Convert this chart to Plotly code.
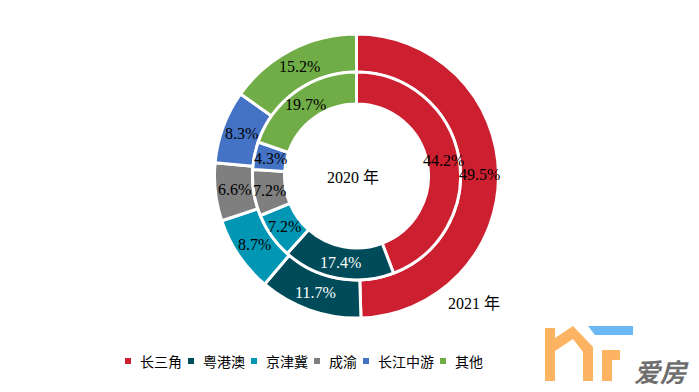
import math
import plotly.graph_objects as go

regions = ["长三角", "粤港澳", "京津冀", "成渝", "长江中游", "其他"]
share_2021 = [49.5, 11.7, 8.7, 6.6, 8.3, 15.2]
share_2020 = [44.2, 17.4, 7.2, 7.2, 4.3, 19.7]
colors = ["#CC1F30", "#004B5A", "#0096B4", "#7F7F7F", "#4472C4", "#70AD47"]
text_colors = ["#000000", "#FFFFFF", "#000000", "#000000", "#000000", "#000000"]
year_labels = ["2020 年", "2021 年"]

W, H = 699, 392
OFF = 8  # page body margin in the browser


def px(x):
    return (x - OFF) / W


def py(y):
    return 1 - (y - OFF) / H


cx, cy = 356.5, 176.0
R_out, R_mid, R_in = 142.0, 104.0, 72.0


def dom(r):
    return dict(x=[px(cx - r), px(cx + r)], y=[py(cy + r), py(cy - r)])


font_num = "Liberation Serif, Times New Roman, Noto Sans CJK SC, serif"

fig = go.Figure()
annotations = []
for vals, r, r0 in [(share_2021, R_out, R_mid), (share_2020, R_mid, R_in)]:
    fig.add_trace(go.Pie(
        labels=regions, values=vals, domain=dom(r), hole=r0 / r,
        sort=False, direction="clockwise", rotation=0,
        marker=dict(colors=colors, line=dict(color="white", width=3)),
        textinfo="none", showlegend=False, hoverinfo="label+value",
    ))
    # labels centred in each slice (mid-angle, mid-radius)
    total = sum(vals)
    cum = 0.0
    rm = (r + r0) / 2
    for v, tc in zip(vals, text_colors):
        ang = 2 * math.pi * (cum + v / 2) / total
        cum += v
        x = cx + rm * math.sin(ang)
        y = cy - rm * math.cos(ang)
        annotations.append(dict(x=px(x), y=py(y), xref="paper", yref="paper",
                                text=f"{v:.1f}%", showarrow=False,
                                xanchor="center", yanchor="middle",
                                font=dict(family=font_num, size=16, color=tc)))

for (x, y), t in zip([(353, 177), (474, 303)], year_labels):
    annotations.append(dict(x=px(x), y=py(y), xref="paper", yref="paper", text=t,
                            showarrow=False, xanchor="center", yanchor="middle",
                            font=dict(family=font_num, size=16, color="#000")))

shapes = []
# legend
lx, ly = 128.0, 361.0
for lab, col in zip(regions, colors):
    shapes.append(dict(type="rect", xref="paper", yref="paper",
                       x0=px(lx - 3), x1=px(lx + 3), y0=py(ly + 3), y1=py(ly - 3),
                       fillcolor=col, line=dict(width=0)))
    annotations.append(dict(x=px(lx + 10), y=py(ly), xref="paper", yref="paper",
                            text=lab, showarrow=False, xanchor="left", yanchor="middle",
                            font=dict(family="Noto Sans CJK SC", size=14, color="#000")))
    lx += 10 + 14 * len(lab) + 11


def path(pts):
    return "M " + " L ".join(f"{px(x)},{py(y)}" for x, y in pts) + " Z"


# watermark logo
shapes.append(dict(type="path", xref="paper", yref="paper", line=dict(width=0), fillcolor="#FDB462",
                   path=path([(545, 381), (545, 328), (555, 328), (555, 338), (573, 326), (593, 347),
                              (593, 381), (583, 381), (583, 352), (573, 339), (555, 351), (555, 381)])))
shapes.append(dict(type="path", xref="paper", yref="paper", line=dict(width=0), fillcolor="#FDB462",
                   path=path([(602, 350), (620, 350), (620, 360), (612, 360), (612, 381), (602, 381)])))
shapes.append(dict(type="path", xref="paper", yref="paper", line=dict(width=0), fillcolor="#6BB8F5",
                   path=path([(588, 326), (633, 326), (633, 335), (595, 335)])))
annotations.append(dict(x=px(661), y=py(370), xref="paper", yref="paper", text="<b><i>爱房</i></b>",
                        showarrow=False, xanchor="center", yanchor="middle",
                        font=dict(family="Noto Sans CJK SC", size=26, color="#6E6E6E")))

fig.update_layout(
    width=W, height=H, margin=dict(l=0, r=0, t=0, b=0),
    paper_bgcolor="white", plot_bgcolor="white",
    annotations=annotations, shapes=shapes,
)
fig.write_html("out.html")
